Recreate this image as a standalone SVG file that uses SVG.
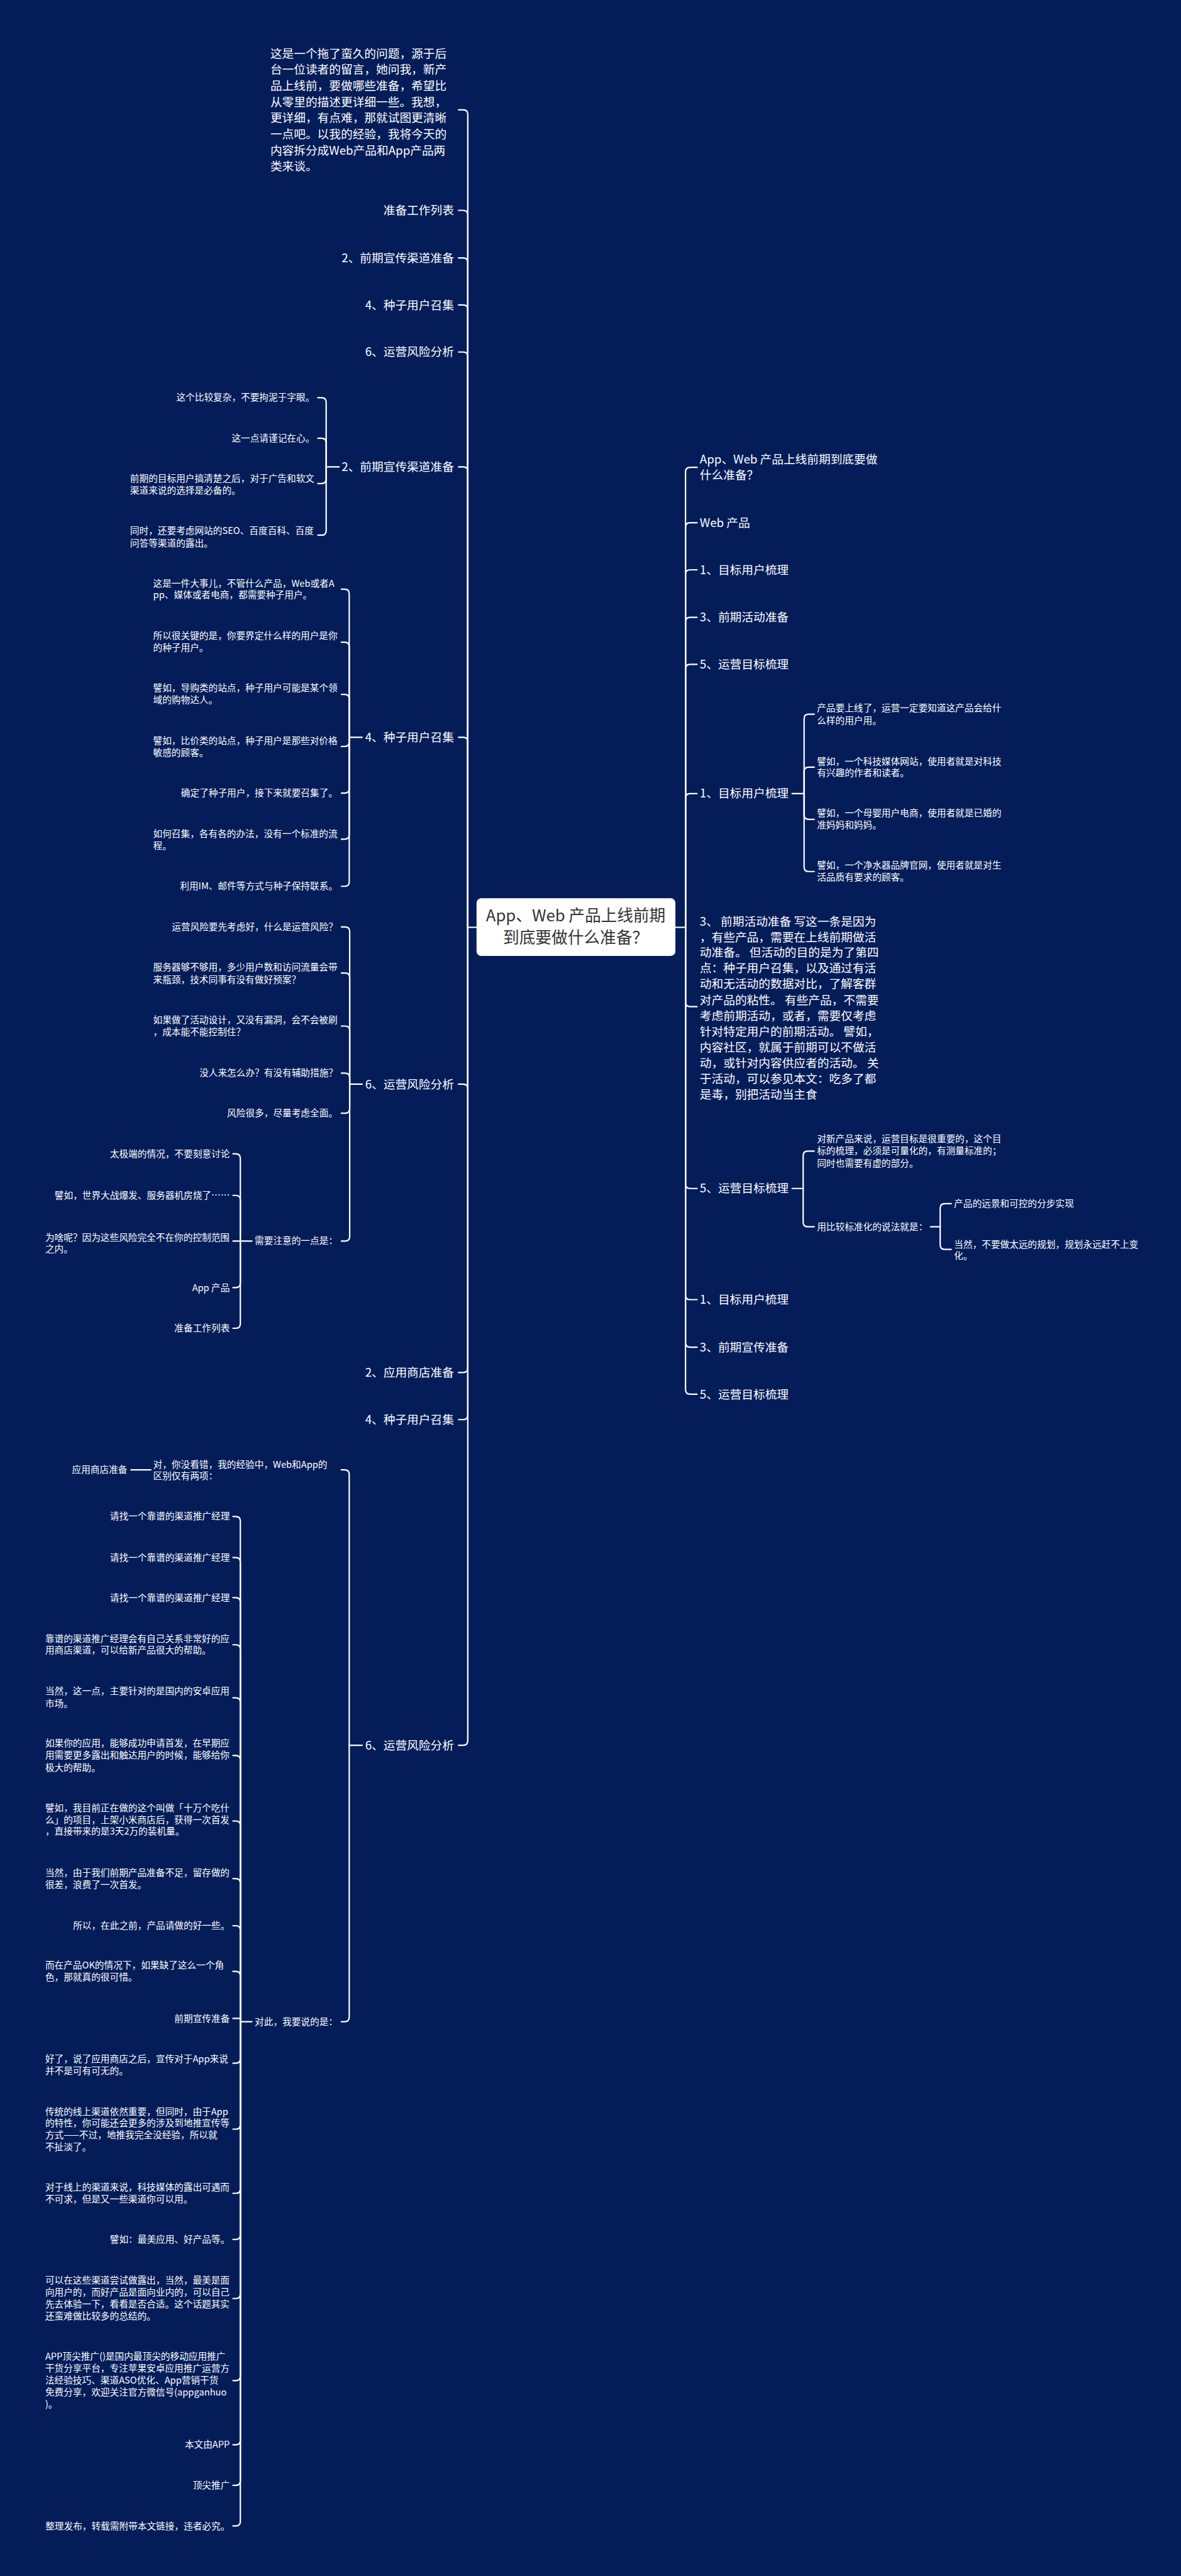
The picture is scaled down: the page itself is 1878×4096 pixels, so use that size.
<svg xmlns="http://www.w3.org/2000/svg" width="1878" height="4096" viewBox="0 0 1878 4096">
<style>
text{font-family:"Noto Sans CJK SC","Noto Sans",sans-serif;fill:#fff}
.t1{font-size:25.5px}
.t2{font-size:20px}
.e{text-anchor:end}
.cn{font-size:35px;fill:#333;text-anchor:middle}
.ln{fill:none;stroke:#fff;stroke-width:3;stroke-linecap:round;stroke-linejoin:round}
</style>
<rect width="1878" height="4096" fill="#041d59"/>
<g transform="scale(0.73359)">
<g id="connectors" class="ln">
<path d="M1033,2010 H1014"/>
<path d="M1014,2010 V248 Q1014,238 1004,238 H994"/>
<path d="M1014,2010 V466 Q1014,456 1004,456 H994"/>
<path d="M1014,2010 V569 Q1014,559 1004,559 H994"/>
<path d="M1014,2010 V671 Q1014,661 1004,661 H994"/>
<path d="M1014,2010 V773 Q1014,763 1004,763 H994"/>
<path d="M1014,2010 V1022 Q1014,1012 1004,1012 H994"/>
<path d="M1014,2010 V1608 Q1014,1598 1004,1598 H994"/>
<path d="M1014,2010 V2360 Q1014,2350 1004,2350 H994"/>
<path d="M1014,2010 V2965 Q1014,2975 1004,2975 H994"/>
<path d="M1014,2010 V3067 Q1014,3077 1004,3077 H994"/>
<path d="M1014,2010 V3773 Q1014,3783 1004,3783 H994"/>
<path d="M735,1012 H707"/>
<path d="M707,1012 V872 Q707,862 697,862 H689"/>
<path d="M707,1012 V960 Q707,950 697,950 H689"/>
<path d="M707,1012 V1038 Q707,1048 697,1048 H689"/>
<path d="M707,1012 V1150 Q707,1160 697,1160 H689"/>
<path d="M785,1598 H757"/>
<path d="M757,1598 V1287 Q757,1277 747,1277 H740"/>
<path d="M757,1598 V1402 Q757,1392 747,1392 H740"/>
<path d="M757,1598 V1515 Q757,1505 747,1505 H740"/>
<path d="M757,1598 V1608 Q757,1618 747,1618 H740"/>
<path d="M757,1598 V1709 Q757,1719 747,1719 H740"/>
<path d="M757,1598 V1809 Q757,1819 747,1819 H740"/>
<path d="M757,1598 V1911 Q757,1921 747,1921 H740"/>
<path d="M785,2350 H758"/>
<path d="M758,2350 V2019 Q758,2009 748,2009 H740"/>
<path d="M758,2350 V2119 Q758,2109 748,2109 H740"/>
<path d="M758,2350 V2234 Q758,2224 748,2224 H740"/>
<path d="M758,2350 V2336 Q758,2326 748,2326 H740"/>
<path d="M758,2350 V2403 Q758,2413 748,2413 H740"/>
<path d="M758,2350 V2680 Q758,2690 748,2690 H740"/>
<path d="M546,2690 H521"/>
<path d="M521,2690 V2511 Q521,2501 511,2501 H505"/>
<path d="M521,2690 V2601 Q521,2591 511,2591 H505"/>
<path d="M521,2690 H505"/>
<path d="M521,2690 V2781 Q521,2791 511,2791 H505"/>
<path d="M521,2690 V2869 Q521,2879 511,2879 H505"/>
<path d="M785,3783 H757"/>
<path d="M757,3783 V3196 Q757,3186 747,3186 H740"/>
<path d="M757,3783 V4372 Q757,4382 747,4382 H740"/>
<path d="M327,3186 H284"/>
<path d="M546,4382 H521"/>
<path d="M521,4382 V3297 Q521,3287 511,3287 H505"/>
<path d="M521,4382 V3386 Q521,3376 511,3376 H505"/>
<path d="M521,4382 V3473 Q521,3463 511,3463 H505"/>
<path d="M521,4382 V3575 Q521,3565 511,3565 H505"/>
<path d="M521,4382 V3690 Q521,3680 511,3680 H505"/>
<path d="M521,4382 V3815 Q521,3805 511,3805 H505"/>
<path d="M521,4382 V3957 Q521,3947 511,3947 H505"/>
<path d="M521,4382 V4082 Q521,4072 511,4072 H505"/>
<path d="M521,4382 V4184 Q521,4174 511,4174 H505"/>
<path d="M521,4382 V4283 Q521,4273 511,4273 H505"/>
<path d="M521,4375 H505"/>
<path d="M521,4382 V4462 Q521,4472 511,4472 H505"/>
<path d="M521,4382 V4605 Q521,4615 511,4615 H505"/>
<path d="M521,4382 V4744 Q521,4754 511,4754 H505"/>
<path d="M521,4382 V4844 Q521,4854 511,4854 H505"/>
<path d="M521,4382 V4972 Q521,4982 511,4982 H505"/>
<path d="M521,4382 V5150 Q521,5160 511,5160 H505"/>
<path d="M521,4382 V5289 Q521,5299 511,5299 H505"/>
<path d="M521,4382 V5377 Q521,5387 511,5387 H505"/>
<path d="M521,4382 V5465 Q521,5475 511,5475 H505"/>
<path d="M1464,2010 H1486"/>
<path d="M1486,2010 V1023 Q1486,1013 1496,1013 H1511"/>
<path d="M1486,2010 V1143 Q1486,1133 1496,1133 H1511"/>
<path d="M1486,2010 V1245 Q1486,1235 1496,1235 H1511"/>
<path d="M1486,2010 V1348 Q1486,1338 1496,1338 H1511"/>
<path d="M1486,2010 V1450 Q1486,1440 1496,1440 H1511"/>
<path d="M1486,2010 V1730 Q1486,1720 1496,1720 H1511"/>
<path d="M1486,2010 V2172 Q1486,2182 1496,2182 H1511"/>
<path d="M1486,2010 V2566 Q1486,2576 1496,2576 H1511"/>
<path d="M1486,2010 V2807 Q1486,2817 1496,2817 H1511"/>
<path d="M1486,2010 V2910 Q1486,2920 1496,2920 H1511"/>
<path d="M1486,2010 V3012 Q1486,3022 1496,3022 H1511"/>
<path d="M1717,1720 H1743"/>
<path d="M1743,1720 V1558 Q1743,1548 1753,1548 H1765"/>
<path d="M1743,1720 V1673 Q1743,1663 1753,1663 H1765"/>
<path d="M1743,1720 V1766 Q1743,1776 1753,1776 H1765"/>
<path d="M1743,1720 V1879 Q1743,1889 1753,1889 H1765"/>
<path d="M1717,2576 H1741"/>
<path d="M1741,2576 V2505 Q1741,2495 1751,2495 H1765"/>
<path d="M1741,2576 V2649 Q1741,2659 1751,2659 H1765"/>
<path d="M2017,2659 H2038"/>
<path d="M2038,2659 V2619 Q2038,2609 2048,2609 H2062"/>
<path d="M2038,2659 V2698 Q2038,2708 2048,2708 H2062"/>
</g>
<g id="root">
<rect x="1033" y="1947" width="431" height="125" rx="10" fill="#fff"/>
<text class="cn" x="1248"><tspan x="1248" y="1997">App、Web 产品上线前期</tspan><tspan x="1248" y="2045">到底要做什么准备？</tspan></text>
</g>
<g id="intro"><text class="t1"><tspan x="586" y="125">这是一个拖了蛮久的问题，源于后</tspan><tspan x="586" y="160">台一位读者的留言，她问我，新产</tspan><tspan x="586" y="195">品上线前，要做哪些准备，希望比</tspan><tspan x="586" y="230">从零里的描述更详细一些。我想，</tspan><tspan x="586" y="265">更详细，有点难，那就试图更清晰</tspan><tspan x="586" y="300">一点吧。以我的经验，我将今天的</tspan><tspan x="586" y="335">内容拆分成Web产品和App产品两</tspan><tspan x="586" y="370">类来谈。</tspan></text></g>
<g id="l-list1"><text class="t1 e" x="984" y="465">准备工作列表</text></g>
<g id="l-2a"><text class="t1 e" x="984" y="568">2、前期宣传渠道准备</text></g>
<g id="l-4a"><text class="t1 e" x="984" y="670">4、种子用户召集</text></g>
<g id="l-6a"><text class="t1 e" x="984" y="772">6、运营风险分析</text></g>
<g id="l-2b"><text class="t1 e" x="984" y="1021">2、前期宣传渠道准备</text></g>
<g id="l-2b-1"><text class="t2 e" x="682" y="869">这个比较复杂，不要拘泥于字眼。</text></g>
<g id="l-2b-2"><text class="t2 e" x="682" y="957">这一点请谨记在心。</text></g>
<g id="l-2b-3"><text class="t2"><tspan x="282" y="1044">前期的目标用户搞清楚之后，对于广告和软文</tspan><tspan x="282" y="1070">渠道来说的选择是必备的。</tspan></text></g>
<g id="l-2b-4"><text class="t2"><tspan x="282" y="1158">同时，还要考虑网站的SEO、百度百科、百度</tspan><tspan x="282" y="1184">问答等渠道的露出。</tspan></text></g>
<g id="l-4b"><text class="t1 e" x="984" y="1607">4、种子用户召集</text></g>
<g id="l-4b-1"><text class="t2"><tspan x="332" y="1272">这是一件大事儿，不管什么产品，Web或者A</tspan><tspan x="332" y="1297">pp、媒体或者电商，都需要种子用户。</tspan></text></g>
<g id="l-4b-2"><text class="t2"><tspan x="332" y="1385">所以很关键的是，你要界定什么样的用户是你</tspan><tspan x="332" y="1411">的种子用户。</tspan></text></g>
<g id="l-4b-3"><text class="t2"><tspan x="332" y="1498">譬如，导购类的站点，种子用户可能是某个领</tspan><tspan x="332" y="1524">域的购物达人。</tspan></text></g>
<g id="l-4b-4"><text class="t2"><tspan x="332" y="1613">譬如，比价类的站点，种子用户是那些对价格</tspan><tspan x="332" y="1639">敏感的顾客。</tspan></text></g>
<g id="l-4b-5"><text class="t2 e" x="732" y="1726">确定了种子用户，接下来就要召集了。</text></g>
<g id="l-4b-6"><text class="t2"><tspan x="332" y="1815">如何召集，各有各的办法，没有一个标准的流</tspan><tspan x="332" y="1840">程。</tspan></text></g>
<g id="l-4b-7"><text class="t2 e" x="732" y="1928">利用IM、邮件等方式与种子保持联系。</text></g>
<g id="l-6b"><text class="t1 e" x="984" y="2359">6、运营风险分析</text></g>
<g id="l-6b-1"><text class="t2 e" x="732" y="2016">运营风险要先考虑好，什么是运营风险？</text></g>
<g id="l-6b-2"><text class="t2"><tspan x="332" y="2104">服务器够不够用，多少用户数和访问流量会带</tspan><tspan x="332" y="2131">来瓶颈，技术同事有没有做好预案？</tspan></text></g>
<g id="l-6b-3"><text class="t2"><tspan x="332" y="2218">如果做了活动设计，又没有漏洞，会不会被刷</tspan><tspan x="332" y="2244">，成本能不能控制住？</tspan></text></g>
<g id="l-6b-4"><text class="t2 e" x="732" y="2333">没人来怎么办？有没有辅助措施？</text></g>
<g id="l-6b-5"><text class="t2 e" x="732" y="2420">风险很多，尽量考虑全面。</text></g>
<g id="l-6b-6"><text class="t2 e" x="732" y="2697">需要注意的一点是：</text></g>
<g id="l-6b-6-1"><text class="t2 e" x="498" y="2508">太极端的情况，不要刻意讨论</text></g>
<g id="l-6b-6-2"><text class="t2 e" x="498" y="2598">譬如，世界大战爆发、服务器机房烧了……</text></g>
<g id="l-6b-6-3"><text class="t2"><tspan x="98" y="2689">为啥呢？因为这些风险完全不在你的控制范围</tspan><tspan x="98" y="2714">之内。</tspan></text></g>
<g id="l-6b-6-4"><text class="t2 e" x="498" y="2798">App 产品</text></g>
<g id="l-6b-6-5"><text class="t2 e" x="498" y="2886">准备工作列表</text></g>
<g id="l-2c"><text class="t1 e" x="984" y="2984">2、应用商店准备</text></g>
<g id="l-4c"><text class="t1 e" x="984" y="3086">4、种子用户召集</text></g>
<g id="l-6c"><text class="t1 e" x="984" y="3792">6、运营风险分析</text></g>
<g id="l-6c-1"><text class="t2"><tspan x="332" y="3181">对，你没看错，我的经验中，Web和App的</tspan><tspan x="332" y="3206">区别仅有两项：</tspan></text></g>
<g id="l-6c-1-1"><text class="t2 e" x="276" y="3193">应用商店准备</text></g>
<g id="l-6c-2"><text class="t2 e" x="732" y="4389">对此，我要说的是：</text></g>
<g id="l-6c-2-1"><text class="t2 e" x="498" y="3294">请找一个靠谱的渠道推广经理</text></g>
<g id="l-6c-2-2"><text class="t2 e" x="498" y="3383">请找一个靠谱的渠道推广经理</text></g>
<g id="l-6c-2-3"><text class="t2 e" x="498" y="3470">请找一个靠谱的渠道推广经理</text></g>
<g id="l-6c-2-4"><text class="t2"><tspan x="98" y="3559">靠谱的渠道推广经理会有自己关系非常好的应</tspan><tspan x="98" y="3584">用商店渠道，可以给新产品很大的帮助。</tspan></text></g>
<g id="l-6c-2-5"><text class="t2"><tspan x="98" y="3673">当然，这一点，主要针对的是国内的安卓应用</tspan><tspan x="98" y="3699">市场。</tspan></text></g>
<g id="l-6c-2-6"><text class="t2"><tspan x="98" y="3786">如果你的应用，能够成功申请首发，在早期应</tspan><tspan x="98" y="3812">用需要更多露出和触达用户的时候，能够给你</tspan><tspan x="98" y="3838">极大的帮助。</tspan></text></g>
<g id="l-6c-2-7"><text class="t2"><tspan x="98" y="3926">譬如，我目前正在做的这个叫做「十万个吃什</tspan><tspan x="98" y="3952">么」的项目，上架小米商店后，获得一次首发</tspan><tspan x="98" y="3977">，直接带来的是3天2万的装机量。</tspan></text></g>
<g id="l-6c-2-8"><text class="t2"><tspan x="98" y="4066">当然，由于我们前期产品准备不足，留存做的</tspan><tspan x="98" y="4092">很差，浪费了一次首发。</tspan></text></g>
<g id="l-6c-2-9"><text class="t2 e" x="498" y="4181">所以，在此之前，产品请做的好一些。</text></g>
<g id="l-6c-2-10"><text class="t2"><tspan x="98" y="4267">而在产品OK的情况下，如果缺了这么一个角</tspan><tspan x="98" y="4293">色，那就真的很可惜。</tspan></text></g>
<g id="l-6c-2-11"><text class="t2 e" x="498" y="4382">前期宣传准备</text></g>
<g id="l-6c-2-12"><text class="t2"><tspan x="98" y="4470">好了，说了应用商店之后，宣传对于App来说</tspan><tspan x="98" y="4496">并不是可有可无的。</tspan></text></g>
<g id="l-6c-2-13"><text class="t2"><tspan x="98" y="4584">传统的线上渠道依然重要，但同时，由于App</tspan><tspan x="98" y="4609">的特性，你可能还会更多的涉及到地推宣传等</tspan><tspan x="98" y="4635">方式——不过，地推我完全没经验，所以就</tspan><tspan x="98" y="4660">不扯淡了。</tspan></text></g>
<g id="l-6c-2-14"><text class="t2"><tspan x="98" y="4748">对于线上的渠道来说，科技媒体的露出可遇而</tspan><tspan x="98" y="4774">不可求，但是又一些渠道你可以用。</tspan></text></g>
<g id="l-6c-2-15"><text class="t2 e" x="498" y="4861">譬如：最美应用、好产品等。</text></g>
<g id="l-6c-2-16"><text class="t2"><tspan x="98" y="4950">可以在这些渠道尝试做露出，当然，最美是面</tspan><tspan x="98" y="4976">向用户的，而好产品是面向业内的，可以自己</tspan><tspan x="98" y="5002">先去体验一下，看看是否合适。这个话题其实</tspan><tspan x="98" y="5027">还蛮难做比较多的总结的。</tspan></text></g>
<g id="l-6c-2-17"><text class="t2"><tspan x="98" y="5115">APP顶尖推广()是国内最顶尖的移动应用推广</tspan><tspan x="98" y="5141">干货分享平台，专注苹果安卓应用推广运营方</tspan><tspan x="98" y="5166">法经验技巧、渠道ASO优化、App营销干货</tspan><tspan x="98" y="5192">免费分享，欢迎关注官方微信号(appganhuo</tspan><tspan x="98" y="5218">)。</tspan></text></g>
<g id="l-6c-2-18"><text class="t2 e" x="498" y="5306">本文由APP</text></g>
<g id="l-6c-2-19"><text class="t2 e" x="498" y="5394">顶尖推广</text></g>
<g id="l-6c-2-20"><text class="t2 e" x="498" y="5482">整理发布，转载需附带本文链接，违者必究。</text></g>
<g id="r-title"><text class="t1"><tspan x="1517" y="1005">App、Web 产品上线前期到底要做</tspan><tspan x="1517" y="1039">什么准备？</tspan></text></g>
<g id="r-web"><text class="t1" x="1517" y="1142">Web 产品</text></g>
<g id="r-1a"><text class="t1" x="1517" y="1244">1、目标用户梳理</text></g>
<g id="r-3a"><text class="t1" x="1517" y="1347">3、前期活动准备</text></g>
<g id="r-5a"><text class="t1" x="1517" y="1449">5、运营目标梳理</text></g>
<g id="r-1b"><text class="t1" x="1517" y="1729">1、目标用户梳理</text></g>
<g id="r-1b-1"><text class="t2"><tspan x="1771" y="1542">产品要上线了，运营一定要知道这产品会给什</tspan><tspan x="1771" y="1569">么样的用户用。</tspan></text></g>
<g id="r-1b-2"><text class="t2"><tspan x="1771" y="1657">譬如，一个科技媒体网站，使用者就是对科技</tspan><tspan x="1771" y="1682">有兴趣的作者和读者。</tspan></text></g>
<g id="r-1b-3"><text class="t2"><tspan x="1771" y="1770">譬如，一个母婴用户电商，使用者就是已婚的</tspan><tspan x="1771" y="1795">准妈妈和妈妈。</tspan></text></g>
<g id="r-1b-4"><text class="t2"><tspan x="1771" y="1883">譬如，一个净水器品牌官网，使用者就是对生</tspan><tspan x="1771" y="1909">活品质有要求的顾客。</tspan></text></g>
<g id="r-3b"><text class="t1"><tspan x="1517" y="2006">3、 前期活动准备 写这一条是因为</tspan><tspan x="1517" y="2040">，有些产品，需要在上线前期做活</tspan><tspan x="1517" y="2074">动准备。 但活动的目的是为了第四</tspan><tspan x="1517" y="2108">点：种子用户召集，以及通过有活</tspan><tspan x="1517" y="2142">动和无活动的数据对比，了解客群</tspan><tspan x="1517" y="2177">对产品的粘性。 有些产品，不需要</tspan><tspan x="1517" y="2211">考虑前期活动，或者，需要仅考虑</tspan><tspan x="1517" y="2245">针对特定用户的前期活动。 譬如，</tspan><tspan x="1517" y="2279">内容社区，就属于前期可以不做活</tspan><tspan x="1517" y="2313">动，或针对内容供应者的活动。 关</tspan><tspan x="1517" y="2347">于活动，可以参见本文：吃多了都</tspan><tspan x="1517" y="2381">是毒，别把活动当主食</tspan></text></g>
<g id="r-5b"><text class="t1" x="1517" y="2585">5、运营目标梳理</text></g>
<g id="r-5b-1"><text class="t2"><tspan x="1771" y="2476">对新产品来说，运营目标是很重要的，这个目</tspan><tspan x="1771" y="2502">标的梳理，必须是可量化的，有测量标准的；</tspan><tspan x="1771" y="2528">同时也需要有虚的部分。</tspan></text></g>
<g id="r-5b-2"><text class="t2" x="1771" y="2666">用比较标准化的说法就是：</text></g>
<g id="r-5b-2-1"><text class="t2" x="2068" y="2616">产品的远景和可控的分步实现</text></g>
<g id="r-5b-2-2"><text class="t2"><tspan x="2068" y="2704">当然，不要做太远的规划，规划永远赶不上变</tspan><tspan x="2068" y="2729">化。</tspan></text></g>
<g id="r-1c"><text class="t1" x="1517" y="2826">1、目标用户梳理</text></g>
<g id="r-3c"><text class="t1" x="1517" y="2929">3、前期宣传准备</text></g>
<g id="r-5c"><text class="t1" x="1517" y="3031">5、运营目标梳理</text></g>
</g>
</svg>
